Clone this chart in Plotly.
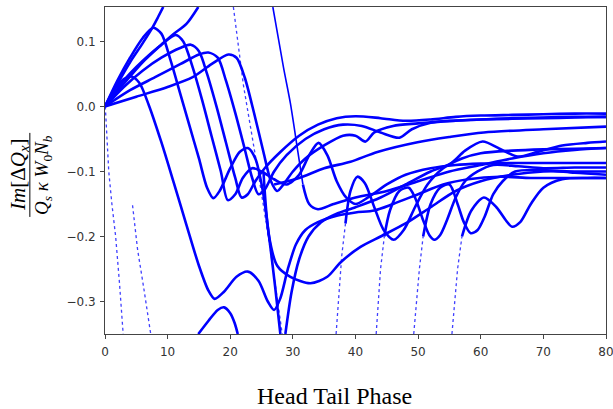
import plotly.graph_objects as go

# ---- data (Head Tail Phase vs normalized Im tune shift) ----
f1_x = [0, 1.5, 3, 4.2, 5.5, 7, 9, 11, 13, 15, 16.5, 17.5, 19, 21, 22.8, 24.5, 26, 27, 28, 29.2, 30.5, 32, 34, 37, 40, 43, 46, 50, 54, 58, 63, 68, 74, 80]
f1_y = [0, 0.026, 0.042, 0.046, 0.036, 0.002, -0.055, -0.118, -0.182, -0.245, -0.283, -0.296, -0.285, -0.262, -0.254, -0.268, -0.300, -0.313, -0.295, -0.250, -0.212, -0.190, -0.178, -0.168, -0.163, -0.160, -0.150, -0.135, -0.120, -0.112, -0.108, -0.110, -0.110, -0.110]

f2_x = [0, 2, 4, 6, 7.7, 9, 10.5, 12, 13.5, 15, 16.3, 17.3, 18.3, 20, 21.5, 22.8, 24, 25.2, 26.2, 27.2, 28]
f2_y = [0, 0.04, 0.075, 0.105, 0.121, 0.112, 0.07, 0.02, -0.03, -0.08, -0.125, -0.141, -0.13, -0.095, -0.07, -0.064, -0.08, -0.13, -0.2, -0.28, -0.35]

f3_x = [0, 3, 6, 9, 11.3, 12.5, 14, 15.5, 17, 18.5, 19.6, 20.8, 22, 23.5, 25, 27, 29, 31, 32.6, 34.1, 35.5, 37, 38.5, 40, 42, 45, 48, 52, 56, 60, 65, 70, 80]
f3_y = [0, 0.04, 0.07, 0.095, 0.110, 0.10, 0.06, 0.01, -0.045, -0.1, -0.144, -0.135, -0.11, -0.095, -0.1, -0.112, -0.12, -0.105, -0.075, -0.056, -0.075, -0.115, -0.14, -0.15, -0.14, -0.12, -0.105, -0.095, -0.09, -0.088, -0.087, -0.087, -0.087]

f4_x = [0, 3, 6, 9, 12, 13.7, 15, 16.3, 17.8, 19.3, 20.8, 21.8, 22.8, 24, 25.5, 28, 31, 34, 37, 40, 44, 48, 52, 56, 60, 65, 70, 75, 80]
f4_y = [0, 0.03, 0.055, 0.075, 0.09, 0.095, 0.085, 0.05, 0.0, -0.055, -0.11, -0.14, -0.135, -0.115, -0.095, -0.07, -0.045, -0.028, -0.018, -0.015, -0.018, -0.022, -0.02, -0.016, -0.014, -0.013, -0.012, -0.011, -0.011]

f5_x = [0, 4, 8, 12, 15, 16.5, 18, 19.3, 20.8, 22.3, 23.5, 24.5, 25.5, 27, 29, 32, 35, 38, 41, 44, 47, 49, 52, 56, 60, 65, 70, 75, 80]
f5_y = [0, 0.025, 0.045, 0.065, 0.08, 0.083, 0.075, 0.04, -0.01, -0.065, -0.11, -0.135, -0.128, -0.1, -0.075, -0.05, -0.035, -0.028, -0.03, -0.04, -0.048, -0.035, -0.025, -0.022, -0.02, -0.018, -0.017, -0.016, -0.016]

f6_x = [0, 5, 10, 14, 17, 19.7, 21, 22.3, 23.8, 25.3, 26.5, 27.5, 28.5, 30, 32, 35, 38, 40, 41.6, 43, 46, 50, 55, 60, 65, 70, 75, 80]
f6_y = [0, 0.015, 0.03, 0.045, 0.065, 0.080, 0.075, 0.045, -0.01, -0.07, -0.115, -0.13, -0.12, -0.1, -0.08, -0.06, -0.045, -0.045, -0.054, -0.04, -0.03, -0.026, -0.022, -0.02, -0.019, -0.018, -0.017, -0.016, -0.016]

arc1_x = [0, 2, 4, 6, 7.5, 8.5, 9.3]
arc1_y = [0, 0.035, 0.068, 0.097, 0.12, 0.138, 0.153]
arc2_x = [0, 3, 6, 9, 11, 13, 14.9]
arc2_y = [0, 0.035, 0.068, 0.095, 0.112, 0.127, 0.153]

la_x = [20.5, 22.1, 24.4, 26.4, 28.3]
la_y = [0.153, 0.033, -0.098, -0.22, -0.35]

lb_steep_x = [26.8, 28.5, 29.6, 30.8, 31.6]
lb_steep_y = [0.153, 0.06, 0.005, -0.07, -0.12]
lb_x = [31.6, 32.6, 34, 36.5, 40, 45, 50, 55, 60, 65, 70, 75, 80]
lb_y = [-0.12, -0.15, -0.158, -0.15, -0.14, -0.13, -0.115, -0.1, -0.09, -0.08, -0.072, -0.067, -0.064]

m4_x = [27, 31, 35, 39.2, 43.5, 49.9, 55, 60.5, 70, 80]
m4_y = [-0.12, -0.11, -0.095, -0.085, -0.07, -0.055, -0.047, -0.04, -0.035, -0.031]

u_x = [25.3, 26.2, 27.5, 29.6, 32.8, 35.5, 37.6, 40.8, 44, 48, 52, 56, 60, 65, 70, 75, 80]
u_y = [-0.1, -0.2, -0.245, -0.262, -0.272, -0.262, -0.240, -0.216, -0.2, -0.18, -0.155, -0.13, -0.115, -0.105, -0.1, -0.1, -0.1]

r2_x = [28.8, 29.8, 31, 32.5, 34.5, 37, 40, 44, 48, 52, 55.2, 57.5, 60.3, 63, 65.9, 69, 73, 77, 80]
r2_y = [-0.35, -0.285, -0.235, -0.2, -0.178, -0.165, -0.155, -0.14, -0.12, -0.1, -0.088, -0.068, -0.054, -0.065, -0.077, -0.07, -0.06, -0.056, -0.054]

v1_x = [36.9, 37.3, 37.8, 38.4, 39.2, 40.3, 41.5, 43, 44.5, 46.1, 47.7, 49.5, 51.5, 54, 57, 60, 65, 70, 75, 80]
v1_y = [-0.35, -0.29, -0.23, -0.18, -0.13, -0.108, -0.118, -0.155, -0.19, -0.205, -0.19, -0.155, -0.12, -0.095, -0.08, -0.072, -0.068, -0.066, -0.065, -0.064]
v2_x = [43.3, 43.6, 44, 44.6, 45.5, 47, 48.5, 49.5, 50.8, 51.8, 52.6, 53.5, 54.6, 56, 57.5, 59.5, 62, 66, 70, 75, 80]
v2_y = [-0.35, -0.3, -0.25, -0.2, -0.16, -0.13, -0.125, -0.14, -0.175, -0.198, -0.205, -0.198, -0.175, -0.14, -0.115, -0.1, -0.09, -0.092, -0.095, -0.094, -0.094]
v3_x = [49.3, 49.7, 50.2, 50.8, 52, 53.5, 55, 56.3, 57.3, 58.4, 59.5, 60.6, 62, 63.5, 65.5, 70, 75, 80]
v3_y = [-0.35, -0.3, -0.25, -0.2, -0.15, -0.125, -0.12, -0.15, -0.178, -0.195, -0.19, -0.17, -0.135, -0.115, -0.1, -0.098, -0.102, -0.105]
v4_x = [55.4, 55.8, 56.3, 57, 58.5, 60.5, 62.5, 64, 65, 66.3, 68, 70, 73, 77, 80]
v4_y = [-0.35, -0.3, -0.25, -0.2, -0.16, -0.14, -0.155, -0.175, -0.185, -0.178, -0.15, -0.125, -0.112, -0.11, -0.11]

t1_x = [0.05, 0.3, 0.6, 1.1, 1.7, 2.3, 2.9]
t1_y = [0, -0.05, -0.1, -0.15, -0.2, -0.27, -0.35]
t2_x = [4.4, 5.2, 6.2, 7.3]
t2_y = [-0.152, -0.22, -0.28, -0.35]
b_x = [14.9, 16.5, 18, 19, 20, 20.7, 21.2]
b_y = [-0.35, -0.33, -0.313, -0.309, -0.318, -0.333, -0.35]

x_ticks = [0, 10, 20, 30, 40, 50, 60, 70, 80]
y_ticks = [-0.3, -0.2, -0.1, 0.0, 0.1]

BLUE = "#0000ff"
THIN = "rgba(0,0,255,0.75)"
fig = go.Figure()


def solid_line(xs, ys, width=2.6):
    fig.add_trace(go.Scatter(x=xs, y=ys, mode="lines",
                             line=dict(color=BLUE, width=width, shape="spline", smoothing=0.8),
                             hoverinfo="skip"))


def thin_line(xs, ys):
    fig.add_trace(go.Scatter(x=xs, y=ys, mode="lines",
                             line=dict(color=THIN, width=1.3, dash="dot"),
                             hoverinfo="skip"))


for xs, ys in [(f1_x, f1_y), (f2_x, f2_y), (f3_x, f3_y), (f4_x, f4_y), (f5_x, f5_y), (f6_x, f6_y),
               (arc1_x, arc1_y), (arc2_x, arc2_y), (lb_x, lb_y), (m4_x, m4_y), (u_x, u_y),
               (r2_x, r2_y), (b_x, b_y)]:
    solid_line(xs, ys)
solid_line(lb_steep_x, lb_steep_y, width=1.6)

# oscillating branches rising steeply from below: sparse (dotted) steep part, then solid
for xs, ys in [(v1_x, v1_y), (v2_x, v2_y), (v3_x, v3_y), (v4_x, v4_y)]:
    thin_line(xs[:4], ys[:4])
    solid_line(xs[3:], ys[3:])

for xs, ys in [(la_x, la_y), (t1_x, t1_y), (t2_x, t2_y)]:
    thin_line(xs, ys)

axis_common = dict(showgrid=False, zeroline=False, showline=True, mirror=True,
                   linecolor="#444", linewidth=1, ticks="outside", ticklen=4, automargin=False,
                   tickcolor="#444", tickfont=dict(family="DejaVu Sans", size=12, color="#333"))
fig.update_xaxes(range=[0, 80], tickvals=x_ticks, ticktext=[str(v) for v in x_ticks],
                 ticklabelstandoff=3, ticklabeloverflow="allow", **axis_common)
fig.update_yaxes(range=[-0.35, 0.153], tickvals=y_ticks, tickformat=".1f",
                 ticklabelstandoff=2, **axis_common)

serif = "Liberation Serif"
fig.add_annotation(text="<i>Im</i>[Δ<i>Q</i><sub><i>x</i></sub>]", xref="paper", yref="paper",
                   x=-0.172, y=0.486, xanchor="center", yanchor="middle",
                   showarrow=False, textangle=-90,
                   font=dict(family=serif, size=21, color="black"))
fig.add_annotation(text="<i>Q</i><sub><i>s</i></sub> <i>κ</i> <i>W</i><sub>0</sub><i>N</i><sub><i>b</i></sub>",
                   xref="paper", yref="paper", x=-0.124, y=0.486, xanchor="center", yanchor="middle",
                   showarrow=False, textangle=-90,
                   font=dict(family=serif, size=19, color="black"))
fig.add_shape(type="line", xref="paper", yref="paper", x0=-0.150, x1=-0.150, y0=0.358, y1=0.615,
              line=dict(color="black", width=1))
fig.add_annotation(text="Head Tail Phase", xref="paper", yref="paper", x=0.459, y=-0.19,
                   xanchor="center", yanchor="middle",
                   showarrow=False, font=dict(family=serif, size=24, color="black"))

fig.update_layout(width=613, height=409, margin=dict(l=105, r=7, t=7, b=75),
                  paper_bgcolor="white", plot_bgcolor="white", showlegend=False)
fig.write_html("out.html", config={"displayModeBar": False},
               post_script="document.body.style.margin='0';")
